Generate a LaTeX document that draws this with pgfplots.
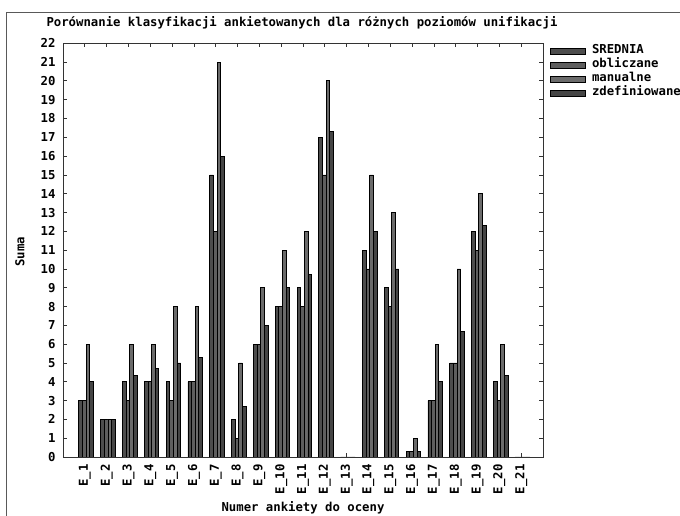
\documentclass[border=0pt]{standalone}
\usepackage{pgfplots}
\usepackage{pgfplotstable}
\pgfplotsset{compat=1.18}
\usepackage{fontspec}
\setmainfont{DejaVu Sans Mono}
\definecolor{cS}{HTML}{4D4D4D}
\definecolor{cO}{HTML}{5E5E5E}
\definecolor{cM}{HTML}{6B6B6B}
\definecolor{cZ}{HTML}{454545}
\pgfplotsset{mylegend/.style={legend image code/.code={\draw[##1] (0bp,-3bp) rectangle (35bp,3bp);}}}
\pgfplotstableread{
x  S   O   M   Z
1  3   3   6   4
2  2   2   2   2
3  4   3   6   4.33
4  4   4   6   4.7
5  4   3   8   5
6  4   4   8   5.3
7  15  12  21  16
8  2   1   5   2.67
9  6   6   9   7
10 8   8   11  9
11 9   8   12  9.7
12 17  15  20  17.3
13 0   0   0   0
14 11  10  15  12
15 9   8   13  10
16 0.3 0.3 1   0.3
17 3   3   6   4
18 5   5   10  6.7
19 12  11  14  12.3
20 4   3   6   4.33
21 0   0   0   0
}\datatable
\begin{document}
\begin{tikzpicture}[x=1bp,y=1bp]
\useasboundingbox (0,0) rectangle (680,516);
\draw[black!65, line width=0.8bp] (6,0) -- (6,504) -- (680,504);
\begin{axis}[
  at={(63bp,59bp)}, anchor=south west,
  scale only axis, width=480bp, height=413.7bp,
  xmin=0, xmax=22, ymin=0, ymax=22,
  font=\fontsize{12.3bp}{14bp}\selectfont\bfseries,
  /pgf/number format/assume math mode=true,
  axis line style={black!80, line width=0.8bp},
  tick style={black!80, line width=0.8bp},
  tick align=inside, major tick length=4bp,
  xtick={1,...,21},
  xticklabels={E\_1,E\_2,E\_3,E\_4,E\_5,E\_6,E\_7,E\_8,E\_9,E\_10,E\_11,E\_12,E\_13,E\_14,E\_15,E\_16,E\_17,E\_18,E\_19,E\_20,E\_21},
  xticklabel style={rotate=90, anchor=east, yshift=0bp, xshift=-4bp},
  ytick={0,...,22},
  yticklabel style={xshift=-4bp},
  legend style={at={(1,1)}, anchor=north west, xshift=7bp, yshift=-1.5bp,
    draw=none, fill=none, inner sep=0pt,
    nodes={inner xsep=0pt, inner ysep=0pt, text height=9bp, text depth=4.7bp, anchor=west},
    /tikz/every odd column/.style={column sep=6bp}},
  legend cell align=left,
]
\addplot[ybar, bar width=0.1667, bar shift=-0.19, fill=cS, draw=black, line width=0.8bp, mylegend] table[x=x,y=S] {\datatable};
\addplot[ybar, bar width=0.1667, bar shift=-0.023, fill=cO, draw=black, line width=0.8bp, mylegend] table[x=x,y=O] {\datatable};
\addplot[ybar, bar width=0.1667, bar shift=0.143, fill=cM, draw=black, line width=0.8bp, mylegend] table[x=x,y=M] {\datatable};
\addplot[ybar, bar width=0.1667, bar shift=0.31, fill=cZ, draw=black, line width=0.8bp, mylegend] table[x=x,y=Z] {\datatable};
\legend{SREDNIA,obliczane,manualne,zdefiniowane}
\end{axis}
\node[anchor=west, font=\fontsize{12.3bp}{14bp}\selectfont\bfseries] at (43,493) {Porównanie klasyfikacji ankietowanych dla różnych poziomów unifikacji};
\node[rotate=90, font=\fontsize{12.3bp}{14bp}\selectfont\bfseries] at (20,264) {Suma};
\node[font=\fontsize{12.3bp}{14bp}\selectfont\bfseries] at (303,8) {Numer ankiety do oceny};
\end{tikzpicture}
\end{document}
